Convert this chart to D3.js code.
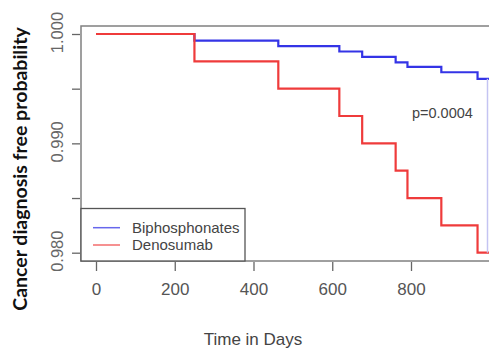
<!DOCTYPE html>
<html>
<head>
<meta charset="utf-8">
<script src="https://cdn.jsdelivr.net/npm/d3@7"></script>
<style>
  body { margin: 0; background: #fff; }
  svg { display: block; }
</style>
</head>
<body>
<figure id="km" style="margin:0"></figure>
<script>
// step times (days) and survival values
const bisDays = [0, 250, 463, 618, 676, 761, 791, 877, 969, 1000];
const bisSurv = [1.000, 0.9994, 0.9989, 0.9984, 0.9979, 0.9974, 0.9970, 0.9965, 0.9959, 0.9959];
const denoDays = [0, 250, 463, 618, 676, 761, 791, 877, 969, 1000];
const denoSurv = [1.000, 0.9975, 0.9950, 0.9925, 0.9900, 0.9875, 0.9850, 0.9825, 0.9800, 0.9800];
const xTicks = [0, 200, 400, 600, 800];
const yTicks = [0.980, 0.985, 0.990, 0.995, 1.000];
const yLabels = [0.980, 0.990, 1.000];
const seriesNames = ["Biphosphonates", "Denosumab"];
const seriesColors = ["#3434e6", "#ef3b3b"];

const width = 489;
const height = 348;
const box = { left: 81, top: 26, right: 500, bottom: 261 };

const svg = d3.select("figure#km")
  .append("svg")
  .attr("width", width)
  .attr("height", height)
  .style("font-family", "'Liberation Sans', Arial, sans-serif");

const x = d3.scaleLinear().domain([0, 800]).range([96, 411]);
const y = d3.scaleLinear().domain([0.980, 1.000]).range([252.7, 34]);

// plot box
svg.append("rect")
  .attr("x", box.left)
  .attr("y", box.top)
  .attr("width", box.right - box.left)
  .attr("height", box.bottom - box.top)
  .attr("fill", "none")
  .attr("stroke", "#808080")
  .attr("stroke-width", 1.5);

// x axis ticks + labels
const xa = svg.append("g")
  .attr("transform", "translate(0," + (box.bottom + 1) + ")")
  .call(d3.axisBottom(x).tickValues(xTicks).tickSize(9).tickPadding(12)
    .tickFormat(d3.format("d")));
xa.select(".domain").remove();
xa.selectAll("line").attr("stroke", "#666").attr("stroke-width", 1.3);
xa.selectAll("text").attr("fill", "#555").style("font-size", "17px");

// y axis ticks + rotated labels
const ya = svg.append("g")
  .attr("transform", "translate(" + (box.left - 1) + ",0)")
  .call(d3.axisLeft(y).tickValues(yTicks).tickSize(8)
    .tickFormat(d => yLabels.some(v => Math.abs(v - d) < 1e-9) ? d3.format(".3f")(d) : ""));
ya.select(".domain").remove();
ya.selectAll("line").attr("stroke", "#666").attr("stroke-width", 1.3);
ya.selectAll("text")
  .attr("fill", "#666")
  .style("font-size", "16.5px")
  .attr("x", 0)
  .attr("text-anchor", "middle")
  .attr("transform", "translate(-23,-2) rotate(-90)")
  .attr("y", 0)
  .attr("dy", "0.35em");

// survival curves
svg.append("clipPath").attr("id", "plotclip")
  .append("rect").attr("x", 0).attr("y", 0).attr("width", width).attr("height", box.bottom);

const line = d3.line().curve(d3.curveStepAfter);
const curves = [
  { days: bisDays, surv: bisSurv },
  { days: denoDays, surv: denoSurv }
];
curves.forEach((c, i) => {
  svg.append("path")
    .datum(c.days.map((d, j) => [x(d), y(c.surv[j])]))
    .attr("d", line)
    .attr("clip-path", "url(#plotclip)")
    .attr("fill", "none")
    .attr("stroke", seriesColors[i])
    .attr("stroke-width", 2.2);
});

// faint line at the right edge
svg.append("line")
  .attr("x1", 487.5).attr("x2", 487.5)
  .attr("y1", y(bisSurv[bisSurv.length - 1]))
  .attr("y2", y(0.980))
  .attr("stroke", "#c4c4f2")
  .attr("stroke-width", 1.5);

// p value
svg.append("text")
  .attr("x", 412).attr("y", 118)
  .attr("fill", "#444")
  .style("font-size", "14.5px")
  .text("p=0.0004");

// legend
svg.append("rect")
  .attr("x", box.left).attr("y", 208.5)
  .attr("width", 245 - box.left).attr("height", box.bottom - 208.5)
  .attr("fill", "#fff")
  .attr("stroke", "#555")
  .attr("stroke-width", 1.3);
seriesNames.forEach((name, i) => {
  const ly = 227.7 + i * 17.3;
  svg.append("line")
    .attr("x1", 93).attr("x2", 120)
    .attr("y1", ly).attr("y2", ly)
    .attr("stroke", seriesColors[i])
    .attr("stroke-opacity", 0.75)
    .attr("stroke-width", 1.5);
  svg.append("text")
    .attr("x", 132).attr("y", ly)
    .attr("dy", "0.35em")
    .attr("fill", "#444")
    .style("font-size", "15px")
    .text(name);
});

// axis titles
svg.append("text")
  .attr("x", 253).attr("y", 339)
  .attr("dy", "0.35em")
  .attr("text-anchor", "middle")
  .attr("fill", "#444")
  .style("font-size", "17px")
  .text("Time in Days");

svg.append("text")
  .attr("transform", "translate(20,169) rotate(-90)")
  .attr("dy", "0.35em")
  .attr("text-anchor", "middle")
  .attr("fill", "#111")
  .style("font-family", "Lato, 'Open Sans', sans-serif")
  .style("font-weight", "bold")
  .style("font-size", "19.5px")
  .text("Cancer diagnosis free probability");
</script>
</body>
</html>
